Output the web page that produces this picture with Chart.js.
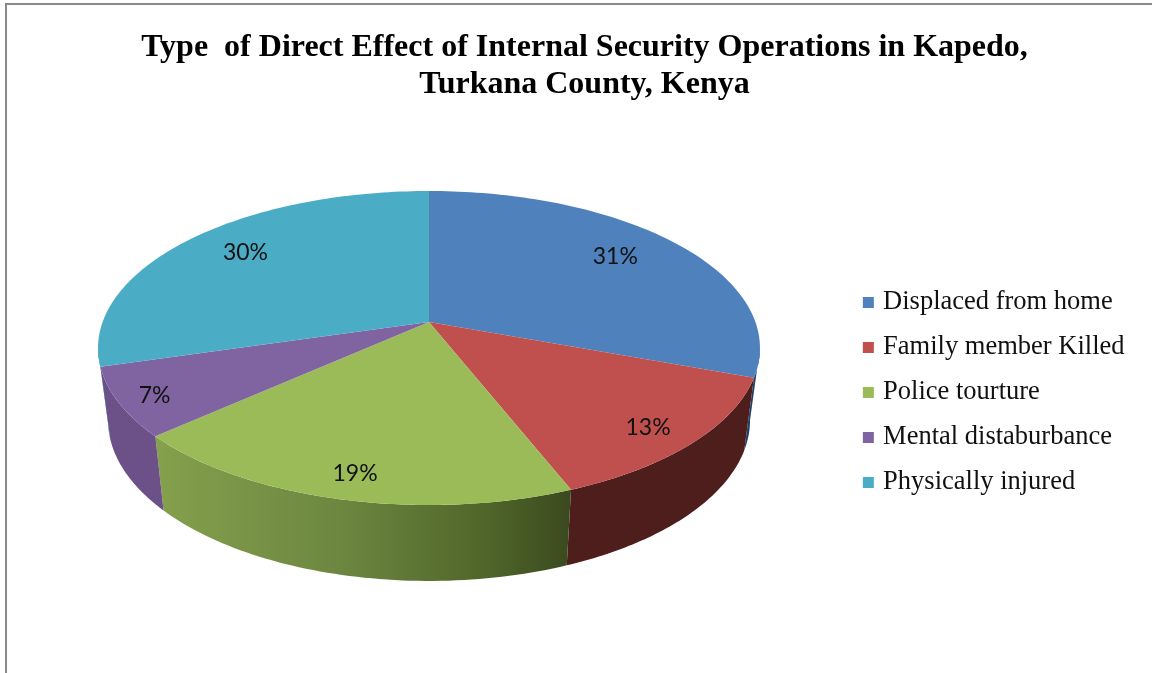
<!DOCTYPE html>
<html lang="en">
<head>
<meta charset="UTF-8"/>
<title>Type of Direct Effect of Internal Security Operations in Kapedo</title>
<script src="https://cdn.jsdelivr.net/npm/chart.js"></script>
<style>
  html, body { margin: 0; padding: 0; background: #fff; overflow: hidden; }
  #wrap { position: relative; width: 1152px; height: 673px; }
  #frame { position: absolute; left: 5px; top: 3px; right: 0; bottom: 0; border-left: 2px solid #8a8a8a; border-top: 2px solid #8a8a8a; }
  canvas { position: absolute; left: 0; top: 0; }
</style>
</head>
<body>
<div id="wrap">
  <div id="frame"></div>
  <canvas id="pie" width="1152" height="673"></canvas>
</div>
<script>
const titleLines = ["Type  of Direct Effect of Internal Security Operations in Kapedo,", "Turkana County, Kenya"];
const categories = ["Displaced from home", "Family member Killed", "Police tourture", "Mental distaburbance", "Physically injured"];
// slice sizes estimated from the drawn slices, the printed labels are these rounded
const shares = [30.6, 13.4, 19.4, 7.1, 29.5];
const faceColors = ["#4f81bd", "#c0504d", "#9bbb59", "#8064a2", "#4bacc6"];

// how far along each slice radius the percent label sits (x, y)
const labelReachX = [0.762, 0.829, 0.825, 0.884, 0.773];
const labelReachY = [0.82, 0.878, 0.853, 0.92, 0.834];

// tilted pie: unit circle pushed through a perspective so the apex is off the ellipse centre
const apexX = 429, apexY = 322;
const radX = 326.4, radY = 152.7, tilt = -0.1656;
const topMidY = 348, lowMidY = 420, lowShrinkX = 0.97, lowGrowY = 1.025;

function facePoint(a, reachX, reachY) {
  const w = 1 + tilt * Math.sin(a);
  return {
    x: apexX + (reachX === undefined ? 1 : reachX) * radX * Math.cos(a) / w,
    y: apexY + (reachY === undefined ? 1 : reachY) * radY * Math.sin(a) / w
  };
}
function lowPoint(a) {
  const p = facePoint(a);
  return { x: apexX + (p.x - apexX) * lowShrinkX, y: lowMidY + (p.y - topMidY) * lowGrowY };
}

function wallFill(ctx, i) {
  if (i === 0) return "#1f4068";
  if (i === 1) return "#4e1e1d";
  if (i === 2) {
    const g = ctx.createLinearGradient(160, 0, 570, 0);
    g.addColorStop(0, "#84a04c");
    g.addColorStop(0.45, "#6c8640");
    g.addColorStop(0.8, "#4f6529");
    g.addColorStop(1, "#3b4a1f");
    return g;
  }
  if (i === 3) return "#6b5188";
  return "#2f7d92";
}

const pie3d = {
  id: "pie3d",
  afterLayout(chart) {
    // title is centred over the frame, legend sits beside the pie
    chart.titleBlock.left = 17;
    chart.legend.left -= 17.5;
    chart.legend.right -= 17.5;
    chart.legend.top += 56;
    chart.legend.bottom += 56;
  },
  beforeDatasetsDraw(chart) {
    const ctx = chart.ctx;
    const arcs = chart.getDatasetMeta(0).data;
    const wallFrom = Math.asin(-tilt), wallTo = Math.PI - wallFrom;

    // side walls first, only the part that faces the viewer
    arcs.forEach((arc, i) => {
      const a0 = Math.max(arc.startAngle, wallFrom), a1 = Math.min(arc.endAngle, wallTo);
      if (a1 <= a0) return;
      ctx.beginPath();
      for (let s = 0; s <= 60; s++) {
        const p = facePoint(a0 + (a1 - a0) * s / 60);
        s === 0 ? ctx.moveTo(p.x, p.y) : ctx.lineTo(p.x, p.y);
      }
      for (let s = 60; s >= 0; s--) {
        const p = lowPoint(a0 + (a1 - a0) * s / 60);
        ctx.lineTo(p.x, p.y);
      }
      ctx.closePath();
      ctx.fillStyle = wallFill(ctx, i);
      ctx.fill();
    });

    // top faces
    arcs.forEach((arc, i) => {
      ctx.beginPath();
      ctx.moveTo(apexX, apexY);
      for (let s = 0; s <= 90; s++) {
        const p = facePoint(arc.startAngle + (arc.endAngle - arc.startAngle) * s / 90);
        ctx.lineTo(p.x, p.y);
      }
      ctx.closePath();
      ctx.fillStyle = faceColors[i];
      ctx.fill();
    });

    // percent labels
    ctx.fillStyle = "#111";
    ctx.font = "23px Lato";
    ctx.textAlign = "center";
    ctx.textBaseline = "middle";
    arcs.forEach((arc, i) => {
      const p = facePoint((arc.startAngle + arc.endAngle) / 2, labelReachX[i], labelReachY[i]);
      ctx.fillText(Math.round(shares[i]) + "%", p.x, p.y);
    });
    return false;
  }
};

new Chart(document.getElementById("pie"), {
  type: "pie",
  data: {
    labels: categories,
    datasets: [{ data: shares, backgroundColor: faceColors, borderColor: faceColors, borderWidth: 8 }]
  },
  options: {
    responsive: false,
    animation: false,
    plugins: {
      tooltip: { enabled: false },
      title: {
        display: true,
        text: titleLines,
        color: "#000",
        font: { family: "'Liberation Serif'", size: 32, weight: "bold", lineHeight: 1.16 },
        padding: { top: 29, bottom: 10 }
      },
      legend: {
        position: "right",
        labels: {
          boxWidth: 3,
          boxHeight: 3,
          padding: 18.5,
          color: "#111",
          font: { family: "'Liberation Serif'", size: 26.5 }
        }
      }
    }
  },
  plugins: [pie3d]
});
</script>
</body>
</html>
